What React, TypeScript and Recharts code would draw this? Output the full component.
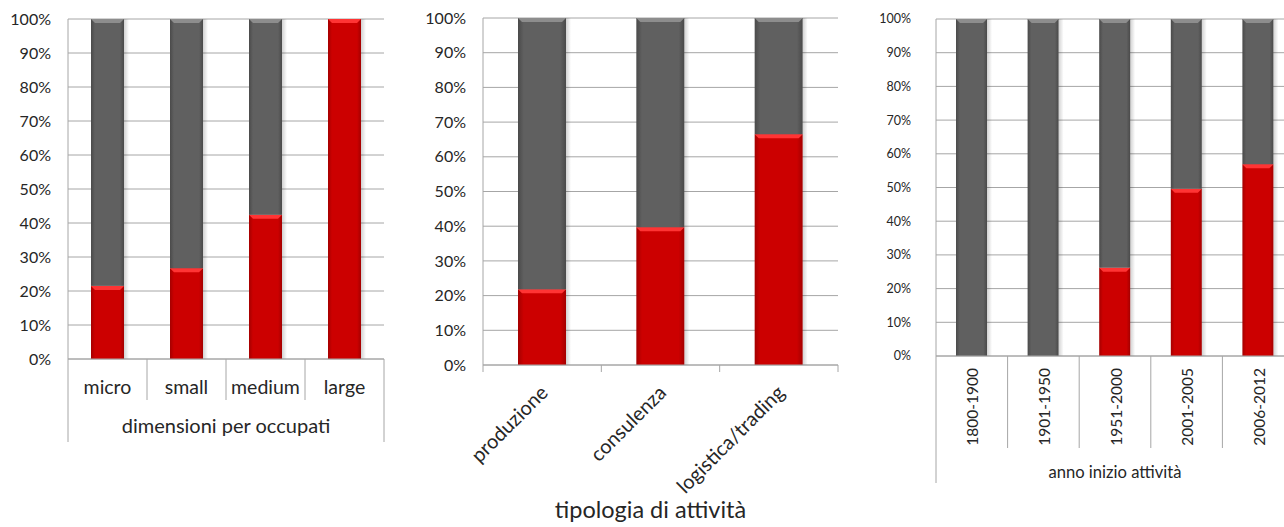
import React from 'react';
import { BarChart, Bar, XAxis, YAxis, CartesianGrid, Label } from 'recharts';

// ---- data ----
const sizeCategories = ['micro', 'small', 'medium', 'large'];
const sizeRed = [21.5, 26.7, 42.4, 100];
const sizeGray = [78.5, 73.3, 57.6, 0];
const sizeTitle = 'dimensioni per occupati';

const typeCategories = ['produzione', 'consulenza', 'logistica/trading'];
const typeRed = [21.8, 39.7, 66.5];
const typeGray = [78.2, 60.3, 33.5];
const typeTitle = 'tipologia di attività';

const yearCategories = ['1800-1900', '1901-1950', '1951-2000', '2001-2005', '2006-2012'];
const yearRed = [0, 0, 26.2, 49.6, 56.9];
const yearGray = [100, 100, 73.8, 50.4, 43.1];
const yearTitle = 'anno inizio attività';

const percentTicks = [0, 10, 20, 30, 40, 50, 60, 70, 80, 90, 100];

const build = (cats: string[], red: number[], gray: number[]) =>
  cats.map((name, i) => ({ name, red: red[i], gray: gray[i] }));

const sizeData = build(sizeCategories, sizeRed, sizeGray);
const typeData = build(typeCategories, typeRed, typeGray);
const yearData = build(yearCategories, yearRed, yearGray);

const GRID = '#a6a6a6';
const TEXT = '#262626';
const FONT = 'Lato, "Open Sans", sans-serif';

const BevelBar = (props: any) => {
  const { x, y, width, height, kind } = props;
  if (!height || height <= 0 || !width) return null;
  const isRed = kind === 'red';
  const b = Math.min(4, height / 2);
  return (
    <g>
      <rect x={x + width} y={y} width={5} height={height} fill="url(#barShadow)" />
      <rect x={x} y={y} width={width} height={height} fill={isRed ? 'url(#redGrad)' : 'url(#grayGrad)'} />
      <polygon
        points={`${x},${y} ${x + width},${y} ${x + width - b},${y + b} ${x + b},${y + b}`}
        fill={isRed ? '#ff3434' : '#8d8d8d'}
      />
    </g>
  );
};

const redShape = (p: any) => <BevelBar {...p} kind="red" />;
const grayShape = (p: any) => <BevelBar {...p} kind="gray" />;

const SizeTick = (props: any) => {
  const { x, y, payload, index, count } = props;
  const half = payload && payload.offset ? payload.offset : 0;
  const left = x - half;
  const right = x + half;
  return (
    <g>
      <line x1={left} x2={left} y1={y} y2={y + (index === 0 ? 83 : 41)} stroke={GRID} />
      {index === count - 1 && <line x1={right} x2={right} y1={y} y2={y + 83} stroke={GRID} />}
      <text x={x} y={y + 35} textAnchor="middle" fontSize={19.5} fontFamily={FONT} fill={TEXT}>
        {payload.value}
      </text>
    </g>
  );
};

const TypeTick = (props: any) => {
  const { x, y, payload, index, count } = props;
  const half = payload && payload.offset ? payload.offset : 0;
  const left = x - half;
  const right = x + half;
  const px = x + 7;
  const py = y + 29;
  return (
    <g>
      <line x1={left} x2={left} y1={y} y2={y + 7} stroke={GRID} />
      {index === count - 1 && <line x1={right} x2={right} y1={y} y2={y + 7} stroke={GRID} />}
      <text
        x={px}
        y={py}
        textAnchor="end"
        transform={`rotate(-45 ${px} ${py})`}
        fontSize={20}
        fontFamily={FONT}
        fill={TEXT}
      >
        {payload.value}
      </text>
    </g>
  );
};

const YearTick = (props: any) => {
  const { x, y, payload, index, count } = props;
  const half = payload && payload.offset ? payload.offset : 0;
  const left = x - half;
  const right = x + half;
  const px = x + 6.5;
  const py = y + 12;
  return (
    <g>
      <line x1={left} x2={left} y1={y} y2={y + (index === 0 ? 127 : 92)} stroke={GRID} />
      {index === count - 1 && <line x1={right} x2={right} y1={y} y2={y + 92} stroke={GRID} />}
      <text
        x={px}
        y={py}
        textAnchor="end"
        transform={`rotate(-90 ${px} ${py})`}
        fontSize={15.5}
        fontFamily={FONT}
        fill={TEXT}
      >
        {payload.value}
      </text>
    </g>
  );
};

const yAxisProps = (fontSize: number, margin: number, width: number) => ({
  type: 'number' as const,
  domain: [0, 100],
  ticks: percentTicks,
  interval: 0 as const,
  tickFormatter: (v: number) => `${v}%`,
  axisLine: { stroke: GRID },
  tickLine: false,
  tickMargin: margin,
  width,
  tick: { fill: TEXT, fontSize, fontFamily: FONT },
});

export default function App() {
  return (
    <div
      style={{
        position: 'absolute',
        left: 0,
        top: 0,
        width: 1284,
        height: 527,
        overflow: 'hidden',
        background: '#ffffff',
        fontFamily: FONT,
      }}
    >
      <svg width={0} height={0} style={{ position: 'absolute' }}>
        <defs>
          <linearGradient id="grayGrad" x1="0" y1="0" x2="1" y2="0">
            <stop offset="0" stopColor="#4a4a4a" />
            <stop offset="0.12" stopColor="#606060" />
            <stop offset="0.88" stopColor="#606060" />
            <stop offset="1" stopColor="#4a4a4a" />
          </linearGradient>
          <linearGradient id="redGrad" x1="0" y1="0" x2="1" y2="0">
            <stop offset="0" stopColor="#a40000" />
            <stop offset="0.12" stopColor="#cc0000" />
            <stop offset="0.88" stopColor="#cc0000" />
            <stop offset="1" stopColor="#a40000" />
          </linearGradient>
          <linearGradient id="barShadow" x1="0" y1="0" x2="1" y2="0">
            <stop offset="0" stopColor="#000" stopOpacity="0.18" />
            <stop offset="1" stopColor="#000" stopOpacity="0" />
          </linearGradient>
        </defs>
      </svg>

      {/* Panel 1 */}
      <div style={{ position: 'absolute', left: 0, top: 0 }}>
        <BarChart width={420} height={527} data={sizeData} margin={{ top: 19, right: 36, left: 0, bottom: 0 }} barSize={33}>
          <CartesianGrid vertical={false} stroke={GRID} />
          <YAxis {...yAxisProps(16, 11, 68)} />
          <XAxis
            dataKey="name"
            axisLine={{ stroke: GRID }}
            tickLine={false}
            tickSize={0}
            tickMargin={0}
            interval={0}
            height={168}
            tick={<SizeTick count={sizeCategories.length} />}
          >
            <Label value={sizeTitle} position="insideBottom" offset={94} fontSize={20} fontFamily={FONT} fill={TEXT} />
          </XAxis>
          <Bar dataKey="red" stackId="s" fill="#cc0000" shape={redShape} isAnimationActive={false} />
          <Bar dataKey="gray" stackId="s" fill="#606060" shape={grayShape} isAnimationActive={false} />
        </BarChart>
      </div>

      {/* Panel 2 */}
      <div style={{ position: 'absolute', left: 420, top: 0 }}>
        <BarChart width={440} height={527} data={typeData} margin={{ top: 18, right: 22, left: 0, bottom: 0 }} barSize={48}>
          <CartesianGrid vertical={false} stroke={GRID} />
          <YAxis {...yAxisProps(16, 11, 63)} />
          <XAxis
            dataKey="name"
            axisLine={{ stroke: GRID }}
            tickLine={false}
            tickSize={0}
            tickMargin={0}
            interval={0}
            height={162}
            tick={<TypeTick count={typeCategories.length} />}
          >
            <Label value={typeTitle} position="insideBottom" offset={9} dx={-10} fontSize={23.5} fontFamily={FONT} fill={TEXT} />
          </XAxis>
          <Bar dataKey="red" stackId="s" fill="#cc0000" shape={redShape} isAnimationActive={false} />
          <Bar dataKey="gray" stackId="s" fill="#606060" shape={grayShape} isAnimationActive={false} />
        </BarChart>
      </div>

      {/* Panel 3 */}
      <div style={{ position: 'absolute', left: 860, top: 0 }}>
        <BarChart width={434} height={527} data={yearData} margin={{ top: 19, right: 0, left: 0, bottom: 0 }} barSize={31}>
          <CartesianGrid vertical={false} stroke={GRID} />
          <YAxis {...yAxisProps(12.5, 19, 76)} />
          <XAxis
            dataKey="name"
            axisLine={{ stroke: GRID }}
            tickLine={false}
            tickSize={0}
            tickMargin={0}
            interval={0}
            height={171}
            tick={<YearTick count={yearCategories.length} />}
          >
            <Label value={yearTitle} position="insideBottom" offset={49} fontSize={16.6} fontFamily={FONT} fill={TEXT} />
          </XAxis>
          <Bar dataKey="red" stackId="s" fill="#cc0000" shape={redShape} isAnimationActive={false} />
          <Bar dataKey="gray" stackId="s" fill="#606060" shape={grayShape} isAnimationActive={false} />
        </BarChart>
      </div>
    </div>
  );
}
